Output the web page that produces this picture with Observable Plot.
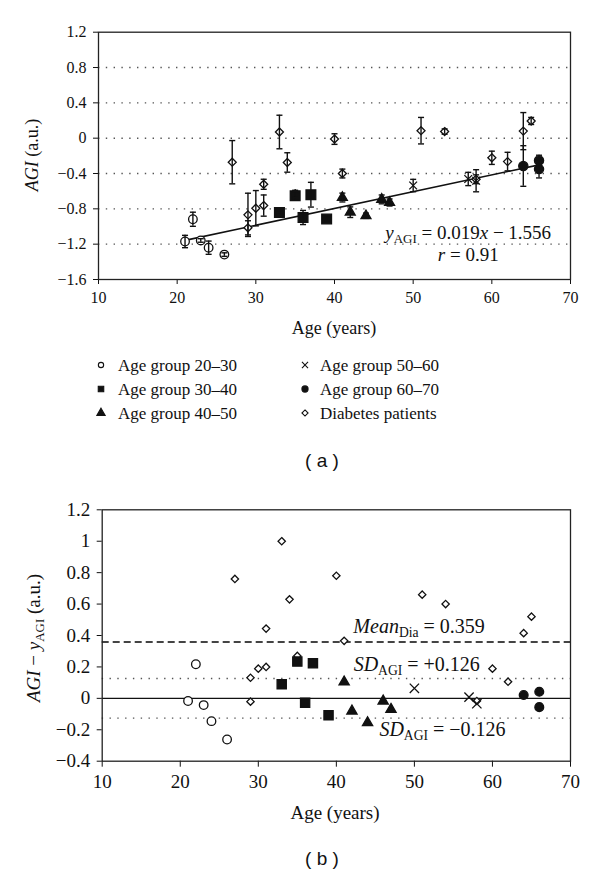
<!DOCTYPE html>
<html><head><meta charset="utf-8">
<script src="https://cdn.jsdelivr.net/npm/d3@7"></script>
<script src="https://cdn.jsdelivr.net/npm/@observablehq/plot@0.6"></script>
<style>
body{margin:0;background:#fff;}
#wrap{position:relative;width:600px;height:874px;overflow:hidden;font-family:"Liberation Serif","Times New Roman",serif;color:#111;background:#fff;}
#wrap > svg{position:absolute;left:0;}
.lab{position:absolute;white-space:nowrap;transform:translate(-50%,-50%);line-height:1;}
.rot{transform:translate(-50%,-50%) rotate(-90deg);}
.sub{font-size:0.68em;position:relative;top:0.28em;}
.cap{font-family:"Liberation Sans",Arial,sans-serif;font-size:19px;}
.leg{position:absolute;white-space:nowrap;font-size:17px;line-height:1;transform:translateY(-50%);}
.legm{position:absolute;transform:translate(-50%,-50%);}
</style>
</head><body><div id="wrap"></div>
<script>
// ---------- data ----------
const ticksAge = [10, 20, 30, 40, 50, 60, 70];
const ticksAGI = [-1.6, -1.2, -0.8, -0.4, 0, 0.4, 0.8, 1.2];
const gridAGI = [-1.2, -0.8, -0.4, 0, 0.4, 0.8];
const ticksRes = [-0.4, -0.2, 0, 0.2, 0.4, 0.6, 0.8, 1, 1.2];

const groupLabels = ["Age group 20–30", "Age group 30–40", "Age group 40–50",
                     "Age group 50–60", "Age group 60–70", "Diabetes patients"];

const age2030 = [21, 22, 23, 24, 26];
const agi2030 = [-1.17, -0.918, -1.158, -1.240, -1.318];
const err2030 = [0.07, 0.08, 0.02, 0.075, 0.02];
const res2030 = [-0.017, 0.217, -0.043, -0.145, -0.262];

const age3040 = [33, 35, 36, 37, 39];
const agi3040 = [-0.842, -0.652, -0.898, -0.640, -0.915];
const err3040 = [0.02, 0.05, 0.08, 0.14, 0.02];
const res3040 = [0.089, 0.234, -0.028, 0.223, -0.107];

const age4050 = [41, 42, 44, 46, 47];
const agi4050 = [-0.672, -0.838, -0.878, -0.693, -0.728];
const err4050 = [0.05, 0.06, 0.03, 0.05, 0.04];
const res4050 = [0.104, -0.081, -0.155, -0.017, -0.07];

const age5060 = [50, 57, 58];
const agi5060 = [-0.536, -0.462, -0.482];
const err5060 = [0.07, 0.075, 0.125];
const res5060 = [0.064, 0.008, -0.034];

const age6070 = [64, 66, 66];
const agi6070 = [-0.315, -0.253, -0.35];
const err6070 = [0.23, 0.06, 0.1];
const res6070 = [0.021, 0.042, -0.056];

const ageDia = [27, 29, 29, 30, 31, 31, 33, 34, 35, 40, 41, 51, 54, 58, 60, 62, 64, 65];
const agiDia = [-0.272, -0.868, -1.015, -0.793, -0.763, -0.522, 0.07, -0.275, -0.63, -0.01, -0.4, 0.085, 0.075, -0.465, -0.222, -0.265, 0.08, 0.195];
const errDia = [0.245, 0.245, 0.08, 0.2, 0.12, 0.057, 0.19, 0.11, 0.04, 0.06, 0.05, 0.15, 0.03, 0.05, 0.075, 0.105, 0.21, 0.04];
const resDia = [0.76, 0.131, -0.021, 0.189, 0.2, 0.444, 1.0, 0.63, 0.27, 0.78, 0.366, 0.66, 0.6, -0.017, 0.189, 0.106, 0.415, 0.52];

const fitAge = [21, 66];
const fitAGI = [-1.157, -0.302];
const fitSlope = "0.019", fitIntercept = "1.556", fitR = "0.91";
const meanDia = 0.359;
const sdAGI = 0.126;

// ---------- styles ----------
const serif = '"Liberation Serif","Times New Roman",serif';
const ink = "#111";
const styleTop = [
  {symbol: "circle", fill: "white", r: 4.3},
  {symbol: "square", fill: ink, r: 5.5},
  {symbol: "triangle", fill: ink, r: 3.7},
  {symbol: "times", fill: "none", r: 3.6},
  {symbol: "circle", fill: ink, r: 4.6},
  {symbol: "diamond2", fill: "white", r: 3.6}
];
const styleBot = [
  {symbol: "circle", fill: "white", r: 4.3},
  {symbol: "square", fill: ink, r: 5.2},
  {symbol: "triangle", fill: ink, r: 3.8},
  {symbol: "times", fill: "none", r: 4.3},
  {symbol: "circle", fill: ink, r: 4.4},
  {symbol: "diamond2", fill: "white", r: 3.3}
];

function makeRows(ages, agis, errs, ress, g) {
  return ages.map((a, i) => ({age: a, agi: agis[i], err: errs[i], res: ress[i], g}));
}
const groups = [
  makeRows(age2030, agi2030, err2030, res2030, 0),
  makeRows(age3040, agi3040, err3040, res3040, 1),
  makeRows(age4050, agi4050, err4050, res4050, 2),
  makeRows(age5060, agi5060, err5060, res5060, 3),
  makeRows(age6070, agi6070, err6070, res6070, 4),
  makeRows(ageDia, agiDia, errDia, resDia, 5)
];
const drawOrder = [5, 0, 1, 2, 3, 4];
const allRows = groups.flat();
const fitRows = fitAge.map((a, i) => ({age: a, agi: fitAGI[i]}));

const capSymbol = {draw(ctx, size) { const w = Math.sqrt(size) * 0.5; ctx.moveTo(-w, 0); ctx.lineTo(w, 0); }};

function dotsFor(yKey, styles) {
  return drawOrder.map(g => Plot.dot(groups[g], {
    x: "age", y: yKey, symbol: styles[g].symbol, r: styles[g].r,
    fill: styles[g].fill, stroke: ink, strokeWidth: 1.3
  }));
}

// rich text helper (subscripts / italics): replaces placeholder text nodes
function rich(svg, key, parts) {
  svg.querySelectorAll("text").forEach(t => {
    if (t.textContent !== key) return;
    t.textContent = "";
    t.setAttribute("style", "white-space:pre");
    let shifted = 0;
    for (const p of parts) {
      const s = document.createElementNS("http://www.w3.org/2000/svg", "tspan");
      s.textContent = p.t;
      if (p.i) s.setAttribute("font-style", "italic");
      const want = p.sub ? 4 : 0;
      if (want !== shifted) { s.setAttribute("dy", want - shifted); shifted = want; }
      if (p.sub) s.setAttribute("font-size", "0.68em");
      t.appendChild(s);
    }
  });
}

const wrap = document.getElementById("wrap");

// ---------- top chart ----------
const topPlot = Plot.plot({
  width: 600, height: 340,
  marginTop: 31.7, marginBottom: 61, marginLeft: 98, marginRight: 30,
  style: {fontFamily: serif, fontSize: "16px", color: ink, background: "transparent", overflow: "visible"},
  x: {domain: [10, 70], ticks: ticksAge, tickSize: 5, tickPadding: 7, label: null, tickFormat: d3.format("~g")},
  y: {domain: [-1.6, 1.2], ticks: ticksAGI, tickSize: 5, tickPadding: 7, label: null, tickFormat: d3.format("~g")},
  marks: [
    Plot.ruleY(gridAGI, {stroke: "#555", strokeWidth: 1.4, strokeDasharray: "1.4,6.4"}),
    Plot.line(fitRows, {x: "age", y: "agi", stroke: ink, strokeWidth: 1.6}),
    ...dotsFor("agi", styleTop),
    Plot.ruleX(allRows, {x: "age", y1: d => d.agi - d.err, y2: d => d.agi + d.err, stroke: ink, strokeWidth: 1.4}),
    Plot.dot(allRows, {x: "age", y: d => d.agi + d.err, symbol: capSymbol, r: 3.4, fill: "none", stroke: ink, strokeWidth: 1.4}),
    Plot.dot(allRows, {x: "age", y: d => d.agi - d.err, symbol: capSymbol, r: 3.4, fill: "none", stroke: ink, strokeWidth: 1.4}),
    Plot.text([{age: 57, agi: -1.072}], {x: "age", y: "agi", text: () => "@EQ@", fontSize: 19, fill: ink}),
    Plot.text([{age: 57, agi: -1.318}], {x: "age", y: "agi", text: () => "@R@", fontSize: 19, fill: ink}),
    Plot.frame({stroke: "#222", strokeWidth: 1.3})
  ]
});
topPlot.style.top = "0px";
wrap.appendChild(topPlot);
rich(topPlot, "@EQ@", [{t: "y", i: 1}, {t: "AGI", sub: 1}, {t: " = " + fitSlope}, {t: "x", i: 1}, {t: " − " + fitIntercept}]);
rich(topPlot, "@R@", [{t: "r", i: 1}, {t: " = " + fitR}]);

// ---------- bottom chart ----------
const botPlot = Plot.plot({
  width: 600, height: 360,
  marginTop: 39.3, marginBottom: 69.3, marginLeft: 101.7, marginRight: 30,
  style: {fontFamily: serif, fontSize: "19px", color: ink, background: "transparent", overflow: "visible"},
  x: {domain: [10, 70], ticks: ticksAge, tickSize: 6, tickPadding: 7, label: null, tickFormat: d3.format("~g")},
  y: {domain: [-0.4, 1.2], ticks: ticksRes, tickSize: 5, tickPadding: 7, label: null, tickFormat: d3.format("~g")},
  marks: [
    Plot.ruleY([sdAGI, -sdAGI], {stroke: "#555", strokeWidth: 1.4, strokeDasharray: "1.4,6.4"}),
    Plot.ruleY([meanDia], {stroke: "#444", strokeWidth: 2, strokeDasharray: "7,4"}),
    Plot.ruleY([0], {stroke: ink, strokeWidth: 1.4}),
    ...dotsFor("res", styleBot),
    Plot.text([{age: 50.6, res: 0.455}], {x: "age", y: "res", text: () => "@MEAN@", fontSize: 20, fill: ink}),
    Plot.text([{age: 50.3, res: 0.212}], {x: "age", y: "res", text: () => "@SDP@", fontSize: 20, fill: ink}),
    Plot.text([{age: 53.6, res: -0.198}], {x: "age", y: "res", text: () => "@SDM@", fontSize: 20, fill: ink}),
    Plot.frame({stroke: "#222", strokeWidth: 1.3})
  ]
});
botPlot.style.top = "470px";
wrap.appendChild(botPlot);
rich(botPlot, "@MEAN@", [{t: "Mean", i: 1}, {t: "Dia", sub: 1}, {t: " = " + meanDia}]);
rich(botPlot, "@SDP@", [{t: "SD", i: 1}, {t: "AGI", sub: 1}, {t: " = +" + sdAGI}]);
rich(botPlot, "@SDM@", [{t: "SD", i: 1}, {t: "AGI", sub: 1}, {t: " = −" + sdAGI}]);

// ---------- html labels ----------
function label(html, x, y, cls, size) {
  const d = document.createElement("div");
  d.className = "lab " + (cls || "");
  d.style.left = x + "px"; d.style.top = y + "px";
  if (size) d.style.fontSize = size + "px";
  d.innerHTML = html;
  wrap.appendChild(d);
}
label("<i>AGI</i> (a.u.)", 32, 155, "rot", 18);
label("Age (years)", 334, 328, "", 18);
label("( a )", 322, 460, "cap");
label("<i>AGI</i> − <i>y</i><span class='sub'>AGI</span> (a.u.)", 33, 638, "rot", 19);
label("Age (years)", 335, 812, "", 19);
label("( b )", 322, 858, "cap");

// ---------- legend ----------
const legSym = {circle: d3.symbolCircle, square: d3.symbolSquare, triangle: d3.symbolTriangle,
                times: d3.symbolTimes, diamond2: d3.symbolDiamond2};
const legSize = [22, 30, 30, 26, 30, 24];
const legPos = [[101, 118, 365], [101, 118, 389], [101, 118, 413], [305, 320, 365], [305, 320, 389], [305, 320, 413]];
groupLabels.forEach((name, g) => {
  const [mx, tx, y] = legPos[g];
  const st = styleTop[g];
  const path = d3.symbol(legSym[st.symbol], legSize[g])();
  const m = document.createElement("div");
  m.className = "legm";
  m.style.left = mx + "px"; m.style.top = y + "px";
  m.innerHTML = `<svg width="12" height="12" viewBox="-6 -6 12 12" style="display:block"><path d="${path}" fill="${st.fill}" stroke="${ink}" stroke-width="1.1"/></svg>`;
  wrap.appendChild(m);
  const t = document.createElement("div");
  t.className = "leg";
  t.style.left = tx + "px"; t.style.top = y + "px";
  t.textContent = name;
  wrap.appendChild(t);
});
</script>
</body></html>
